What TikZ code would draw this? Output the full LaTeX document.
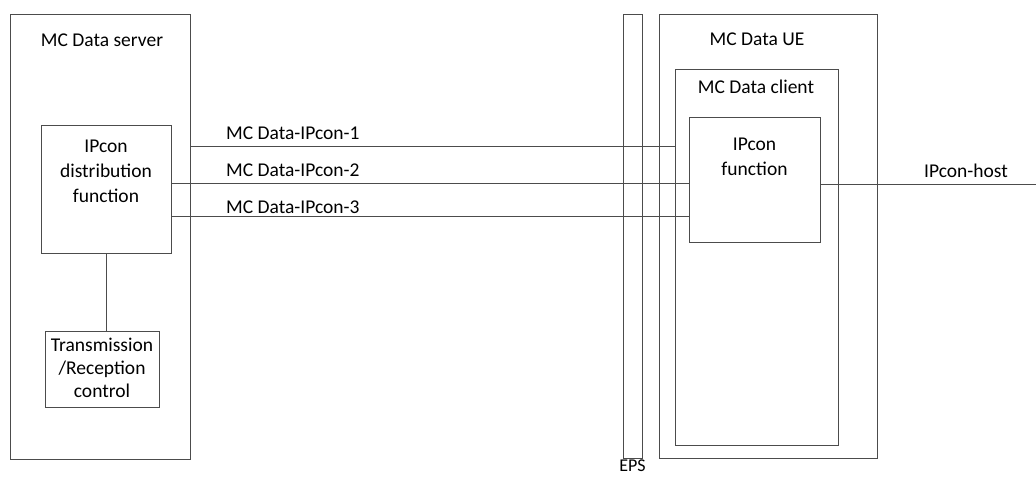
\documentclass[tikz,border=0pt]{standalone}
\usepackage{fontspec}
\setmainfont{Carlito}
\usetikzlibrary{positioning}

\begin{document}
\begin{tikzpicture}[
    x=1pt, y=-1pt,
    box/.style={rectangle, draw=black!70, line width=0.9pt, inner sep=0pt},
    txt/.style={inner sep=0pt, align=center, font=\fontsize{19.5}{25}\selectfont},
    link/.style={draw=black!70, line width=0.9pt}
]
\useasboundingbox (0,0) rectangle (1036,477);

% left side: server
\node[box, minimum width=180pt, minimum height=445pt] (server) at (100,236.5) {};
\node[txt] (servertitle) at (102,40) {MC Data server};
\node[box, minimum width=130pt, minimum height=128pt] (dist) at (106,189) {};
\node[txt, below=15pt of dist.north] (disttxt) {IPcon\\distribution\\function};
\node[box, minimum width=114pt, minimum height=76pt] (trx) at (102,369) {};
\node[txt, font=\fontsize{19.5}{23}\selectfont] (trxtxt) at (102,368) {Transmission\\/Reception\\control};

% EPS bar
\node[box, minimum width=19pt, minimum height=444pt] (eps) at (632.5,236) {};
\node[txt, font=\fontsize{18}{22}\selectfont, below=1.5pt of eps.south] (epstxt) {EPS};

% right side: UE
\node[box, minimum width=218pt, minimum height=444pt] (ue) at (768,236) {};
\node[txt] (uetitle) at (757,39) {MC Data UE};
\node[box, minimum width=163pt, minimum height=376pt] (client) at (756.5,257) {};
\node[txt] (clienttitle) at (756,87) {MC Data client};
\node[box, minimum width=131pt, minimum height=125pt] (ipfn) at (754.5,179.5) {};
\node[txt, below=21pt of ipfn.north] (ipfntxt) {IPcon\\function};

\coordinate (l1) at (0,146);
\coordinate (l2) at (0,183);
\coordinate (l3) at (0,216);
\coordinate (hostend) at (1036,184);

\draw[link] (l1 -| server.east) -- (l1 -| client.west);
\draw[link] (l2 -| dist.east) -- (l2 -| ipfn.west);
\draw[link] (l3 -| dist.east) -- (l3 -| ipfn.west);
\draw[link] (hostend -| ipfn.east) -- (hostend);
\draw[link] (dist.south) -- (dist.south |- trx.north);

\node[txt, anchor=west] (if1) at (226,133) {MC Data-IPcon-1};
\node[txt, anchor=west] (if2) at (226,170) {MC Data-IPcon-2};
\node[txt, anchor=west] (if3) at (226,207) {MC Data-IPcon-3};
\node[txt] (hosttxt) at (966,171) {IPcon-host};
\end{tikzpicture}
\end{document}
